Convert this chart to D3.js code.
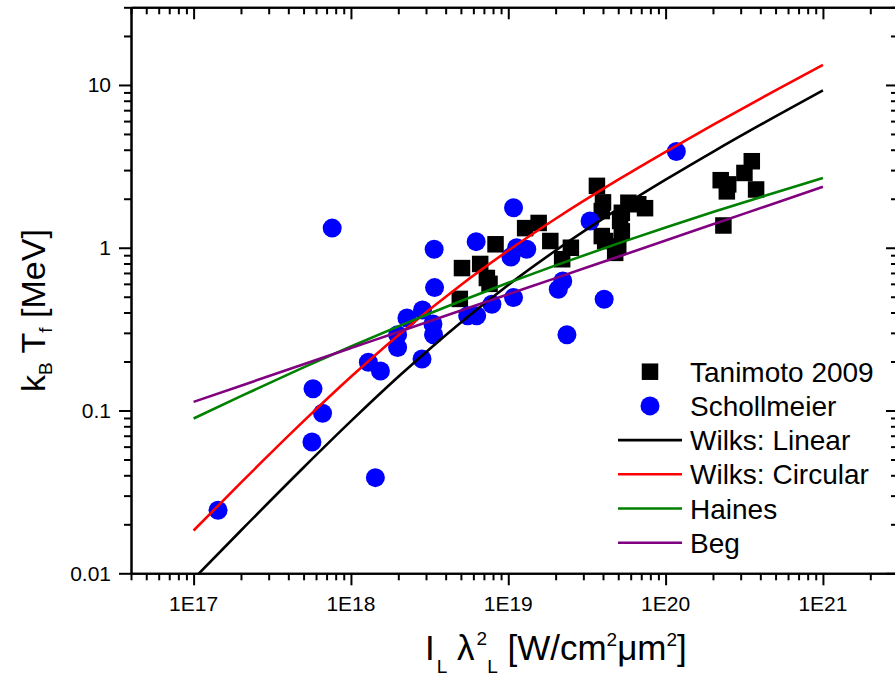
<!DOCTYPE html>
<html>
<head>
<meta charset="utf-8">
<script src="https://cdn.jsdelivr.net/npm/d3@7"></script>
<style>
body { margin: 0; background: #fff; }
svg { display: block; font-family: "Liberation Sans", Arial, sans-serif; }
</style>
</head>
<body>
<div id="chart"></div>
<script>
// Tanimoto 2009 (squares)
var tanimotoX = [5.08e18, 4.92e18, 6.63e18, 7.31e18, 7.6e18, 8.3e18, 1.28e19, 1.56e19, 1.85e19, 2.2e19, 2.5e19,
	3.66e19, 4.0e19, 3.93e19, 3.93e19, 4.13e19, 4.78e19, 5.0e19, 5.27e19, 5.14e19, 5.27e19, 5.8e19, 6.7e19, 7.4e19,
	2.24e20, 2.45e20, 2.5e20, 3.17e20, 3.53e20, 3.76e20, 2.33e20];
var tanimotoY = [0.75, 0.485, 0.795, 0.652, 0.6, 1.05, 1.32, 1.42, 1.1, 0.85, 1.0,
	2.4, 1.9, 1.68, 1.18, 1.1, 0.93, 1.02, 1.26, 1.46, 1.64, 1.89, 1.85, 1.75,
	2.6, 2.22, 2.45, 2.88, 3.4, 2.28, 1.37];

// Schollmeier (circles)
var schollX = [1.43e17, 5.65e17, 5.74e17, 6.6e17, 7.6e17, 1.29e18, 1.54e18, 1.43e18, 1.98e18, 1.98e18, 2.27e18,
	2.83e18, 2.85e18, 3.32e18, 3.35e18, 3.4e18, 3.38e18, 5.52e18, 6.25e18, 6.3e18, 7.87e18, 1.04e19, 1.08e19,
	1.08e19, 1.13e19, 1.31e19, 2.08e19, 2.22e19, 2.36e19, 3.31e19, 4.07e19, 1.17e20];
var schollY = [0.0244, 0.064, 0.136, 0.0963, 1.32, 0.198, 0.175, 0.0387, 0.292, 0.244, 0.37,
	0.207, 0.415, 0.34, 0.292, 0.569, 0.98, 0.382, 1.09, 0.382, 0.45, 0.877, 1.76,
	0.494, 1.0, 0.98, 0.556, 0.625, 0.292, 1.46, 0.483, 3.9];

// model curves
var curveX = [1e17, 2e17, 5e17, 1e18, 2e18, 5e18, 1e19, 2e19, 5e19, 1e20, 2e20, 5e20, 1e21];
var wilksLinear = [0.00924, 0.01832, 0.04467, 0.0860, 0.1611, 0.3478, 0.5909, 0.9611, 1.731, 2.618, 3.885, 6.411, 9.264];
var wilksCircular = [0.01832, 0.03604, 0.0860, 0.1611, 0.2904, 0.5909, 0.9611, 1.507, 2.618, 3.885, 5.684, 9.264, 13.30];
var haines = [0.0893, 0.1226, 0.1840, 0.2473, 0.3287, 0.4703, 0.6087, 0.7793, 1.064, 1.333, 1.657, 2.187, 2.681];
var beg = [0.113, 0.1421, 0.1923, 0.2418, 0.3041, 0.4115, 0.5175, 0.6508, 0.8807, 1.1075, 1.3928, 1.8848, 2.370];

var xTickValues = [1e17, 1e18, 1e19, 1e20, 1e21];
var xTickLabels = ["1E17", "1E18", "1E19", "1E20", "1E21"];
var yTickValues = [0.01, 0.1, 1, 10];
var yTickLabels = ["0.01", "0.1", "1", "10"];

var legendNames = ["Tanimoto 2009", "Schollmeier", "Wilks: Linear", "Wilks: Circular", "Haines", "Beg"];

var width = 895, height = 676;
var plotLeft = 131, plotRight = 898, plotTop = 7.3, plotBottom = 573.3;

var svg = d3.select("#chart").append("svg")
	.attr("width", width)
	.attr("height", height);

var x = d3.scaleLog().domain([4e16, 3e21]).range([plotLeft, plotRight]);
var y = d3.scaleLog().domain([0.01, 30]).range([plotBottom, plotTop]);

// minor ticks 2..9 per decade
function minors(lo, hi) {
	var out = [];
	for (var k = Math.floor(Math.log10(lo)) - 1; k <= Math.ceil(Math.log10(hi)); k++) {
		for (var m = 2; m <= 9; m++) {
			var v = m * Math.pow(10, k);
			if (v >= lo * 0.9999 && v <= hi * 1.0001) out.push(v);
		}
	}
	return out;
}
var xMinor = minors(4e16, 3e21);
var yMinor = minors(0.01, 30);

function styleAxis(g) {
	g.selectAll("path.domain").attr("stroke", "#000").attr("stroke-width", 2);
	g.selectAll(".tick line").attr("stroke", "#000").attr("stroke-width", 2);
	g.selectAll(".tick text").remove();
}

// bottom
svg.append("g").attr("transform", "translate(0," + plotBottom + ")")
	.call(d3.axisBottom(x).tickValues(xMinor).tickSize(7).tickSizeOuter(0).tickFormat(""))
	.call(styleAxis);
svg.append("g").attr("transform", "translate(0," + plotBottom + ")")
	.call(d3.axisBottom(x).tickValues(xTickValues).tickSize(12).tickSizeOuter(0).tickFormat(""))
	.call(styleAxis);
// top (ticks inward, no labels)
svg.append("g").attr("transform", "translate(0," + plotTop + ")")
	.call(d3.axisBottom(x).tickValues(xMinor).tickSize(7).tickSizeOuter(0).tickFormat(""))
	.call(styleAxis);
svg.append("g").attr("transform", "translate(0," + plotTop + ")")
	.call(d3.axisBottom(x).tickValues(xTickValues).tickSize(12).tickSizeOuter(0).tickFormat(""))
	.call(styleAxis);
// left
svg.append("g").attr("transform", "translate(" + plotLeft + ",0)")
	.call(d3.axisLeft(y).tickValues(yMinor).tickSize(7).tickSizeOuter(0).tickFormat(""))
	.call(styleAxis);
svg.append("g").attr("transform", "translate(" + plotLeft + ",0)")
	.call(d3.axisLeft(y).tickValues(yTickValues).tickSize(12).tickSizeOuter(0).tickFormat(""))
	.call(styleAxis);
// right (ticks inward, no labels)
svg.append("g").attr("transform", "translate(" + plotRight + ",0)")
	.call(d3.axisLeft(y).tickValues(yMinor).tickSize(7).tickSizeOuter(0).tickFormat(""))
	.call(styleAxis);
svg.append("g").attr("transform", "translate(" + plotRight + ",0)")
	.call(d3.axisLeft(y).tickValues(yTickValues).tickSize(12).tickSizeOuter(0).tickFormat(""))
	.call(styleAxis);

// tick labels
svg.append("g").selectAll("text")
	.data(xTickValues)
	.enter().append("text")
	.attr("x", function(d) { return x(d); })
	.attr("y", 611)
	.attr("text-anchor", "middle")
	.attr("font-size", 21)
	.attr("fill", "#000")
	.text(function(d, i) { return xTickLabels[i]; });
svg.append("g").selectAll("text")
	.data(yTickValues)
	.enter().append("text")
	.attr("x", 111)
	.attr("y", function(d) { return y(d) + 7.5; })
	.attr("text-anchor", "end")
	.attr("font-size", 21)
	.attr("fill", "#000")
	.text(function(d, i) { return yTickLabels[i]; });

svg.append("clipPath").attr("id", "plotClip")
	.append("rect").attr("x", plotLeft).attr("y", plotTop)
	.attr("width", plotRight - plotLeft).attr("height", plotBottom - plotTop);

var plotG = svg.append("g").attr("clip-path", "url(#plotClip)");

// Tanimoto squares
var sq = 16.5;
plotG.append("g").selectAll("rect")
	.data(tanimotoX.map(function(d, i) { return [d, tanimotoY[i]]; }))
	.enter().append("rect")
	.attr("x", function(d) { return x(d[0]) - sq / 2; })
	.attr("y", function(d) { return y(d[1]) - sq / 2; })
	.attr("width", sq).attr("height", sq)
	.attr("fill", "#000");

// Schollmeier circles
plotG.append("g").selectAll("circle")
	.data(schollX.map(function(d, i) { return [d, schollY[i]]; }))
	.enter().append("circle")
	.attr("cx", function(d) { return x(d[0]); })
	.attr("cy", function(d) { return y(d[1]); })
	.attr("r", 9.5)
	.attr("fill", "#0000ff");

var line = d3.line()
	.x(function(d) { return x(d[0]); })
	.y(function(d) { return y(d[1]); })
	.curve(d3.curveMonotoneX);

var curves = [
	{ vals: wilksLinear, color: "#000000" },
	{ vals: wilksCircular, color: "#ff0000" },
	{ vals: haines, color: "#008000" },
	{ vals: beg, color: "#800080" }
];
curves.forEach(function(c) {
	plotG.append("path")
		.attr("d", line(curveX.map(function(d, i) { return [d, c.vals[i]]; })))
		.attr("fill", "none")
		.attr("stroke", c.color)
		.attr("stroke-width", 2.6);
});

// legend
var legendColors = ["#000000", "#0000ff", "#000000", "#ff0000", "#008000", "#800080"];
var legendG = svg.append("g");
legendNames.forEach(function(name, i) {
	var base = 381.7 + i * 34.2;
	var cy = base - 10;
	if (i == 0) {
		legendG.append("rect").attr("x", 650 - sq / 2).attr("y", cy - sq / 2)
			.attr("width", sq).attr("height", sq).attr("fill", "#000");
	} else if (i == 1) {
		legendG.append("circle").attr("cx", 650).attr("cy", cy).attr("r", 9.5).attr("fill", "#0000ff");
	} else {
		legendG.append("line").attr("x1", 618).attr("x2", 682).attr("y1", cy).attr("y2", cy)
			.attr("stroke", legendColors[i]).attr("stroke-width", 2.6);
	}
	legendG.append("text").attr("x", 690).attr("y", base)
		.attr("font-size", 28).attr("fill", "#000").text(name);
});

// x axis title
var xt = svg.append("text").attr("x", 425).attr("y", 660)
	.attr("font-size", 35).attr("fill", "#000");
xt.append("tspan").text("I");
xt.append("tspan").attr("dx", 2).attr("dy", 13).attr("font-size", 19).text("L");
xt.append("tspan").attr("dy", -13).text(" \u03bb");
xt.append("tspan").attr("dx", 2).attr("dy", -15).attr("font-size", 19).text("2");
xt.append("tspan").attr("dy", 28).attr("font-size", 19).text("L");
xt.append("tspan").attr("dy", -13).text(" [W/cm");
xt.append("tspan").attr("dy", -14).attr("font-size", 19).text("2");
xt.append("tspan").attr("dy", 14).text("\u03bcm");
xt.append("tspan").attr("dy", -14).attr("font-size", 19).text("2");
xt.append("tspan").attr("dy", 14).text("]");

// y axis title
var yt = svg.append("text").attr("transform", "translate(45,392) rotate(-90)")
	.attr("font-size", 34).attr("fill", "#000");
yt.append("tspan").text("k");
yt.append("tspan").attr("dy", 7).attr("font-size", 19).text("B");
yt.append("tspan").attr("dy", -7).text(" T");
yt.append("tspan").attr("dy", 7).attr("font-size", 19).text("f");
yt.append("tspan").attr("dy", -7).text(" [MeV]");
</script>
</body>
</html>
